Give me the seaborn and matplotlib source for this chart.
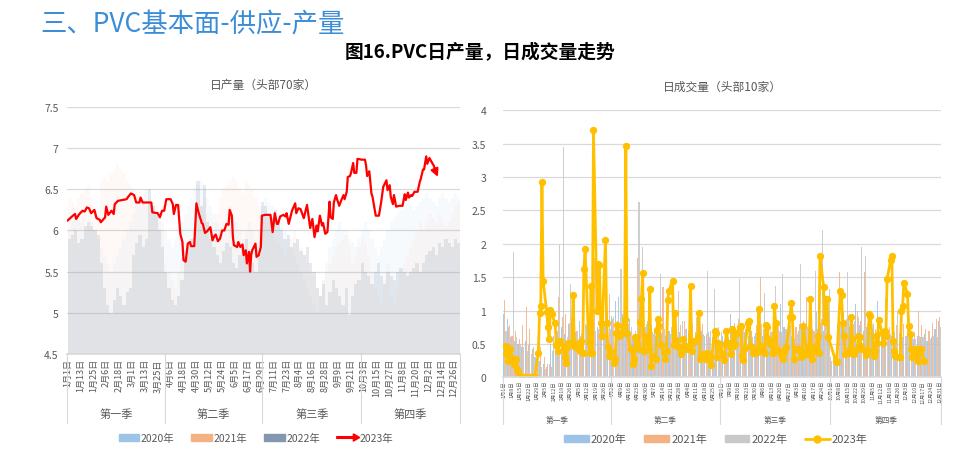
import numpy as np
import pandas as pd
import matplotlib
matplotlib.use("Agg")
import matplotlib.pyplot as plt
import matplotlib.transforms as mtransforms
import seaborn as sns
from matplotlib.patches import Patch, FancyArrow
from matplotlib.lines import Line2D
from matplotlib.legend_handler import HandlerPatch

sns.set_theme(style="white")
plt.rcParams["font.family"] = ["Noto Sans CJK SC", "DejaVu Sans"]
plt.rcParams["axes.unicode_minus"] = False

# ---------------- left: daily output (top 70), 2020-based calendar ----------------
prod_ticks = ["1月1日", "1月13日", "1月25日", "2月6日", "2月18日", "3月1日", "3月13日", "3月25日",
              "4月6日", "4月18日", "4月30日", "5月12日", "5月24日", "6月5日", "6月17日", "6月29日",
              "7月11日", "7月23日", "8月4日", "8月16日", "8月28日", "9月9日", "9月21日",
              "10月3日", "10月15日", "10月27日", "11月8日", "11月20日", "12月2日", "12月14日", "12月26日"]

# background years, one value every 3 days
bg_day = list(range(0, 366, 3))
prod_2020 = [6.0, 6.1, 6.15, 6.2, 6.1, 6.0, 6.05, 6.1, 6.0, 5.9,
             5.8, 5.7, 5.6, 5.5, 5.6, 5.7, 5.8, 5.9, 6.0, 6.1,
             6.2, 6.3, 6.4, 6.45, 6.5, 6.4, 6.35, 6.3, 6.2, 6.1,
             6.0, 5.9, 5.8, 5.9, 6.0, 6.1, 6.2, 6.3, 6.4, 6.5,
             6.55, 6.6, 6.5, 6.4, 6.3, 6.2, 6.1, 6.0, 6.1, 6.2,
             6.3, 6.2, 6.1, 6.0, 5.9, 6.0, 6.1, 6.0, 5.9, 6.0,
             6.3, 6.4, 6.35, 6.3, 6.25, 6.2, 6.1, 6.0, 5.9, 5.8,
             5.7, 5.6, 5.5, 5.4, 5.3, 5.2, 5.1, 5.0, 5.2, 5.4,
             5.6, 5.8, 5.9, 6.0, 6.1, 6.0, 5.95, 5.9, 5.85, 5.8,
             5.9, 6.0, 6.1, 6.0, 5.9, 5.8, 5.7, 5.8, 5.9, 6.0,
             6.1, 6.15, 6.2, 6.25, 6.3, 6.35, 6.3, 6.25, 6.3, 6.35,
             6.4, 6.45, 6.4, 6.35, 6.3, 6.4, 6.45, 6.4, 6.35, 6.4,
             6.45, 6.4]
prod_2021 = [6.4, 6.35, 6.3, 6.4, 6.45, 6.5, 6.55, 6.4, 6.3, 6.2,
             6.6, 6.65, 6.6, 6.7, 6.75, 6.8, 6.75, 6.7, 6.6, 6.55,
             6.5, 6.45, 6.4, 6.35, 6.3, 6.35, 6.3, 6.2, 6.1, 6.0,
             5.6, 5.5, 5.4, 5.3, 5.5, 5.6, 5.7, 5.8, 5.9, 6.0,
             6.1, 6.3, 6.4, 6.2, 6.0, 6.1, 6.2, 6.4, 6.5, 6.55,
             6.6, 6.65, 6.6, 6.5, 6.45, 6.6, 6.55, 6.5, 6.4, 6.3,
             6.2, 6.15, 6.1, 6.0, 5.9, 5.85, 5.8, 5.7, 5.8, 5.9,
             6.0, 5.9, 5.8, 5.7, 5.6, 5.5, 5.45, 5.3, 5.2, 5.4,
             5.5, 5.6, 5.7, 5.8, 5.85, 5.9, 6.0, 5.8, 5.6, 5.7,
             5.8, 5.9, 5.85, 5.7, 5.5, 5.3, 5.2, 5.1, 5.4, 5.6,
             5.2, 5.1, 5.3, 5.5, 5.6, 5.7, 5.8, 5.9, 6.0, 6.1,
             6.0, 6.1, 6.2, 6.15, 6.1, 6.2, 6.1, 6.05, 6.1, 6.2,
             6.3, 6.35]
prod_2022 = [5.9, 5.95, 6.0, 5.85, 5.9, 6.05, 6.1, 6.05, 6.0, 5.95,
             5.6, 5.3, 5.1, 5.0, 5.15, 5.3, 5.2, 5.1, 5.25, 5.3,
             5.7, 5.85, 5.95, 5.8, 5.9, 6.5, 6.3, 6.2, 6.0, 5.8,
             5.5, 5.3, 5.15, 5.1, 5.2, 5.4, 5.6, 5.8, 5.9, 5.85,
             6.6, 6.3, 6.55, 6.1, 5.9, 5.8, 5.7, 5.6, 5.75, 5.85,
             5.8, 5.6, 5.55, 5.7, 5.8, 5.9, 5.75, 5.6, 5.5, 5.7,
             6.35, 6.3, 6.2, 6.15, 6.25, 6.1, 6.0, 5.9, 5.95, 5.8,
             5.85, 5.9, 5.75, 5.7, 5.8, 5.6, 5.5, 5.3, 5.2, 5.35,
             5.1, 5.25, 5.4, 5.3, 5.2, 5.1, 5.3, 4.97, 5.2, 5.35,
             5.4, 5.6, 5.5, 5.45, 5.35, 5.5, 5.6, 5.45, 5.35, 5.5,
             5.45, 5.4, 5.5, 5.55, 5.5, 5.45, 5.5, 5.55, 5.6, 5.5,
             5.6, 5.7, 5.75, 5.8, 5.7, 5.85, 5.8, 5.9, 5.85, 5.8,
             5.9, 5.85]

prod_day = [0, 5, 7, 8, 11, 14, 16, 18, 20, 22, 25, 27, 30, 31, 35, 36, 38, 41, 43, 44,
            47, 51, 55, 56, 59, 62, 64, 67, 68, 70, 75, 78, 79, 84, 86, 88, 90, 92, 96, 98,
            99, 101, 103, 105, 107, 108, 110, 112, 114, 115, 118, 120, 122, 125, 126, 128, 130, 133, 135, 137,
            138, 140, 142, 144, 146, 148, 150, 151, 153, 154, 155, 158, 159, 161, 163, 164, 166, 167, 169, 170,
            171, 172, 175, 176, 178, 180, 181, 184, 187, 189, 191, 193, 195, 196, 198, 201, 203, 204, 206, 209,
            210, 212, 213, 215, 217, 220, 223, 226, 228, 230, 232, 233, 235, 237, 238, 240, 242, 244, 245, 247,
            248, 250, 251, 253, 255, 257, 258, 260, 261, 263, 264, 266, 267, 269, 270, 274, 277, 278, 279, 281,
            283, 284, 286, 287, 290, 292, 294, 297, 298, 300, 301, 303, 304, 306, 309, 312, 314, 315, 317, 318,
            320, 321, 323, 326, 328, 329, 331, 332, 334, 335, 337, 340, 341, 343, 346]
prod_2023 = [6.12, 6.18, 6.20, 6.14, 6.20, 6.24, 6.23, 6.28, 6.27, 6.21, 6.25, 6.15, 6.13, 6.10, 6.16, 6.29, 6.19, 6.24, 6.20, 6.32,
             6.36, 6.37, 6.38, 6.40, 6.45, 6.43, 6.34, 6.34, 6.40, 6.34, 6.34, 6.34, 6.22, 6.21, 6.16, 6.24, 6.24, 6.38, 6.38, 6.32,
             6.20, 6.31, 6.31, 5.96, 5.86, 5.64, 5.62, 5.84, 5.86, 5.81, 5.81, 6.33, 6.22, 6.09, 6.08, 5.97, 5.99, 6.04, 5.88, 5.94,
             5.95, 5.87, 5.90, 6.00, 6.00, 6.08, 6.07, 6.25, 6.18, 5.92, 5.82, 5.80, 5.86, 5.80, 5.83, 5.70, 5.76, 5.60, 5.74, 5.50,
             5.70, 5.76, 5.84, 5.68, 5.70, 5.80, 6.18, 6.19, 6.19, 6.19, 5.98, 6.21, 6.08, 6.08, 6.17, 6.19, 6.17, 6.21, 6.08, 6.24,
             6.27, 6.33, 6.21, 6.27, 6.26, 6.15, 6.31, 6.03, 6.14, 5.92, 6.06, 5.99, 6.18, 6.06, 6.09, 5.96, 5.98, 6.35, 6.16, 6.14,
             6.34, 6.43, 6.38, 6.30, 6.37, 6.43, 6.38, 6.47, 6.65, 6.66, 6.70, 6.82, 6.70, 6.70, 6.87, 6.86, 6.86, 6.79, 6.66, 6.72,
             6.45, 6.41, 6.26, 6.18, 6.18, 6.34, 6.53, 6.61, 6.49, 6.55, 6.41, 6.32, 6.43, 6.29, 6.30, 6.30, 6.44, 6.37, 6.46, 6.40,
             6.43, 6.42, 6.47, 6.47, 6.59, 6.63, 6.74, 6.74, 6.90, 6.81, 6.88, 6.81, 6.79, 6.71, 6.62]

# ---------------- right: daily deals (top 10) ----------------
vol_ticks = ["1月1日", "1月8日", "1月15日", "1月22日", "1月29日", "2月5日", "2月12日", "2月19日", "2月26日",
             "3月5日", "3月12日", "3月19日", "3月26日", "4月2日", "4月9日", "4月16日", "4月23日", "4月30日",
             "5月7日", "5月14日", "5月21日", "5月28日", "6月4日", "6月11日", "6月18日", "6月25日",
             "7月2日", "7月9日", "7月16日", "7月23日", "7月30日", "8月6日", "8月13日", "8月20日", "8月27日",
             "9月3日", "9月10日", "9月17日", "9月24日", "10月1日", "10月8日", "10月15日", "10月22日", "10月29日",
             "11月5日", "11月12日", "11月19日", "11月26日", "12月3日", "12月10日", "12月17日", "12月24日", "12月31日"]

vol_2020 = [0.95, 0.88, 0.6, 0.55, 0.5, 0.45, 0.55, 0.48, 0.42, 0.3,
            0.25, 0.2, 0.15, 0.5, 0.62, 0.7, 0.75, 0.65, 0.8, 0.72,
            0.68, 0.85, 0.9, 0.78, 0.7, 0.82, 0.75, 0.9, 0.85, 1.0,
            0.92, 1.15, 1.2, 0.95, 0.8, 0.88, 0.6, 0.5, 0.55, 0.7,
            0.85, 0.78, 0.72, 0.9, 0.66, 0.62, 0.7, 0.8, 0.75, 0.68,
            0.6, 0.72, 0.65, 0.55, 0.58, 0.7, 0.62, 0.68, 0.6, 0.55,
            0.5, 0.62, 0.7, 0.95, 0.72, 0.6, 0.55, 0.68, 0.62, 0.7,
            0.66, 0.58, 0.62, 0.72, 0.6, 0.55, 0.7, 1.1, 0.75, 0.68,
            0.62, 0.58, 0.7, 0.75, 0.8, 0.78, 0.72, 0.98, 0.82, 0.7,
            0.62, 0.3, 0.25, 0.8, 0.95, 0.85, 0.9, 0.82, 1.1, 0.78,
            0.7, 0.75, 0.68, 0.8, 1.14, 0.72, 0.65, 0.7, 0.62, 0.58,
            0.66, 0.6, 0.62, 0.55, 0.58, 0.62, 0.6, 0.65, 0.55, 0.6,
            0.72, 0.85]
vol_2021 = [1.16, 0.75, 0.62, 0.7, 0.58, 0.78, 1.05, 0.72, 0.45, 0.4,
            0.45, 0.3, 0.2, 0.15, 0.85, 1.2, 0.9, 0.95, 0.82, 0.75,
            0.7, 0.62, 0.78, 0.7, 0.65, 1.78, 0.72, 0.68, 0.95, 1.25,
            0.88, 0.78, 0.72, 0.85, 0.7, 0.65, 0.6, 1.78, 0.8, 0.75,
            0.7, 0.68, 0.62, 0.75, 1.35, 0.7, 0.65, 0.72, 0.6, 0.78,
            0.85, 0.7, 0.62, 0.68, 0.75, 0.8, 0.65, 0.6, 0.55, 0.62,
            0.45, 0.5, 0.68, 0.75, 0.82, 0.88, 0.7, 0.72, 0.65, 0.6,
            0.78, 1.5, 0.72, 0.65, 0.7, 0.8, 0.75, 0.68, 0.72, 0.62,
            0.7, 0.75, 0.8, 0.85, 1.2, 0.75, 0.7, 0.72, 0.88, 0.9,
            0.82, 0.25, 0.2, 1.58, 0.95, 0.88, 0.75, 0.8, 1.0, 0.85,
            1.58, 0.8, 0.75, 0.72, 0.82, 0.7, 1.18, 0.75, 0.82, 0.78,
            0.72, 0.8, 0.75, 0.7, 0.68, 1.0, 0.78, 0.72, 0.7, 0.82,
            0.88, 0.9]
vol_2022 = [0.7, 0.78, 1.88, 0.6, 0.5, 0.45, 0.4, 0.35, 0.3, 0.25,
            0.15, 0.12, 0.2, 0.4, 0.55, 1.98, 3.45, 0.6, 1.4, 0.75,
            0.7, 0.65, 0.8, 0.75, 0.9, 0.7, 0.85, 0.95, 0.8, 0.72,
            0.9, 0.85, 1.62, 0.9, 0.8, 0.75, 0.7, 2.62, 1.95, 0.8,
            0.7, 0.65, 0.85, 1.55, 0.72, 0.6, 0.75, 0.7, 1.3, 0.85,
            0.72, 0.68, 0.8, 0.9, 0.75, 0.65, 1.6, 0.7, 1.32, 0.75,
            0.68, 0.72, 0.6, 0.65, 0.7, 1.47, 0.72, 0.68, 0.75, 0.62,
            0.7, 0.8, 1.27, 0.75, 0.68, 1.37, 0.7, 1.55, 0.72, 0.78,
            0.7, 0.65, 1.7, 0.72, 0.75, 0.8, 1.6, 0.95, 2.2, 0.9,
            1.32, 0.3, 0.2, 0.85, 1.0, 1.58, 0.8, 0.85, 0.9, 1.95,
            1.82, 0.75, 0.7, 0.68, 0.65, 0.72, 0.7, 0.65, 0.68, 1.0,
            0.7, 0.62, 0.6, 0.65, 0.58, 0.62, 0.6, 0.55, 0.58, 0.62,
            0.6, 0.75]

# 2023 trading days
vol_2023 = [0.47, 0.35, 0.45, 0.25, 0.42, 0.28, 0.20, 0.27, 0.12, 0.08,
            0.00, 0.00, 0.00, 0.00, 0.00, 0.00, 0.00, 0.00, 0.00, 0.00,
            0.37, 0.96, 1.07, 2.93, 1.44, 0.98, 0.75, 0.58, 1.01, 0.95,
            0.81, 0.48, 0.40, 0.52, 0.55, 0.45, 0.30, 0.22, 0.46, 0.52,
            0.50, 1.23, 0.52, 0.45, 0.47, 0.40, 0.55, 0.37, 1.62, 1.92,
            0.53, 0.37, 1.37, 0.37, 3.70, 1.00, 1.70, 1.68, 0.82, 0.62,
            2.05, 0.82, 0.45, 0.32, 0.40, 0.22, 0.27, 0.67, 0.78, 0.62,
            0.67, 0.77, 0.87, 3.47, 0.67, 0.42, 0.42, 0.20, 0.27, 0.60,
            0.42, 0.83, 1.17, 1.57, 0.40, 0.62, 0.42, 1.32, 0.17, 0.32,
            0.27, 0.71, 0.87, 0.77, 0.48, 0.38, 0.27, 0.40, 1.16, 1.30,
            1.45, 0.48, 0.97, 0.56, 0.47, 0.35, 0.43, 0.58, 0.47, 0.42,
            0.47, 1.37, 0.40, 0.52, 0.55, 0.60, 0.97, 0.27, 0.33, 0.35,
            0.27, 0.37, 0.32, 0.31, 0.18, 0.70, 0.67, 0.31, 0.52, 0.42,
            0.35, 0.26, 0.50, 0.70, 0.52, 0.35, 0.72, 0.47, 0.50, 0.65,
            0.76, 0.77, 0.33, 0.26, 0.42, 0.82, 0.85, 0.47, 0.45, 0.37,
            0.37, 0.40, 1.03, 0.40, 0.47, 0.37, 0.78, 0.75, 0.57, 0.50,
            0.37, 1.07, 0.82, 0.42, 0.40, 0.32, 0.27, 0.37, 0.42, 0.45,
            0.90, 1.12, 0.90, 0.27, 0.42, 0.42, 0.40, 0.31, 0.40, 0.77,
            0.35, 0.42, 0.45, 1.18, 0.28, 0.40, 0.47, 0.62, 0.36, 1.82,
            1.36, 0.83, 1.17, 1.18, 0.60, 0.25, 0.23, 1.30, 1.23, 0.81,
            0.62, 0.35, 0.37, 0.42, 0.91, 0.58, 0.35, 0.43, 0.62, 0.60,
            0.47, 0.42, 0.33, 0.37, 0.41, 0.95, 0.92, 0.32, 0.40, 0.62,
            0.52, 0.86, 0.67, 0.52, 0.70, 0.62, 1.47, 1.76, 1.82, 0.55,
            0.40, 0.32, 0.30, 0.30, 1.00, 1.07, 1.42, 1.25, 0.77, 0.65,
            0.42, 0.31, 0.42, 0.35, 0.25, 0.42, 0.42, 0.25]
vol_dates = pd.bdate_range("2023-01-02", periods=len(vol_2023), freq="C",
                           holidays=["2023-10-02", "2023-10-03", "2023-10-04"])
vol_day = np.array(vol_dates.dayofyear - 1)

quarters = ["第一季", "第二季", "第三季", "第四季"]

C20, C21 = "#9DC3E6", "#F4B183"
C22_L, C22_R = "#8497B0", "#C9C9C9"
GOLD = "#FFC000"
GRID = "#D9D9D9"
TXT = "#595959"


def quarter_axis(ax, bounds, depth, label_y, fs):
    trans = mtransforms.blended_transform_factory(ax.transData, ax.transAxes)
    for b in bounds:
        ax.plot([b, b], [0, depth], transform=trans, color=GRID, lw=0.8, clip_on=False)
    for a, b, name in zip(bounds[:-1], bounds[1:], quarters):
        ax.text((a + b) / 2, label_y, name, transform=trans, ha="center", va="center",
                fontsize=fs, color=TXT)


def style_axis(ax):
    ax.grid(axis="y", color=GRID, lw=0.9)
    ax.set_axisbelow(True)
    for s in ["top", "right", "left"]:
        ax.spines[s].set_visible(False)
    ax.spines["bottom"].set_color(GRID)
    ax.tick_params(axis="both", length=0, colors=TXT)
    ax.yaxis.set_major_formatter(plt.FuncFormatter(lambda v, p: f"{v:g}"))
    ax.set_xlabel("")
    ax.set_ylabel("")


fig = plt.figure(figsize=(9.61, 4.56), dpi=100)
fig.text(0.042, 0.945, "三、PVC基本面-供应-产量", fontsize=19, color="#3C8DD8", va="center")
fig.text(0.499, 0.886, "图16.PVC日产量，日成交量走势", fontsize=13.5, fontweight="bold",
         ha="center", va="center", color="black")

# ---------- left panel ----------
ax1 = fig.add_axes([0.0697, 0.2215, 0.409, 0.5417])
ax1.bar(bg_day, prod_2022, width=3, color=C22_L, alpha=0.2, linewidth=0, align="edge")
ax1.bar(bg_day, prod_2020, width=3, color=C20, alpha=0.08, linewidth=0, align="edge")
ax1.bar(bg_day, prod_2021, width=3, color=C21, alpha=0.07, linewidth=0, align="edge")
sns.lineplot(x=prod_day[:-1], y=prod_2023[:-1], color="red", lw=1.6, ax=ax1,
             sort=False, estimator=None)
ax1.annotate("", xy=(prod_day[-1], prod_2023[-1]), xytext=(prod_day[-2] - 1, prod_2023[-2] + 0.03),
             arrowprops=dict(arrowstyle="-|>", color="red", lw=1.6, mutation_scale=11))
ax1.set_xlim(-0.5, 365.5)
ax1.set_ylim(4.5, 7.5)
ax1.set_yticks(np.arange(4.5, 7.51, 0.5))
ax1.set_xticks(range(0, 366, 12))
ax1.set_xticklabels(prod_ticks, rotation=90, fontsize=6.5)
style_axis(ax1)
ax1.tick_params(axis="y", labelsize=7.5, pad=6)
ax1.tick_params(axis="x", pad=3)
ax1.set_title("日产量（头部70家）", fontsize=8.5, color=TXT, pad=14)
quarter_axis(ax1, [-0.5, 90.5, 181.5, 273.5, 365.5], -0.28, -0.243, 8)

arrow_handle = Patch(color="red")


def make_arrow(legend, orig_handle, xdescent, ydescent, width, height, fontsize):
    return FancyArrow(-xdescent, height / 2 - ydescent, width * 1.1, 0, width=1.2,
                      head_width=height * 1.1, head_length=width * 0.3,
                      length_includes_head=True, color="red")


h1 = [Patch(color=C20), Patch(color=C21), Patch(color=C22_L), arrow_handle]
fig.legend(h1, ["2020年", "2021年", "2022年", "2023年"], loc="center",
           bbox_to_anchor=(0.266, 0.037), ncol=4, frameon=False, fontsize=7.5,
           handlelength=2.0, handleheight=0.6, handletextpad=0.15, columnspacing=1.6,
           labelcolor=TXT, handler_map={arrow_handle: HandlerPatch(patch_func=make_arrow)})

# ---------- right panel ----------
ax2 = fig.add_axes([0.5234, 0.1704, 0.4558, 0.5855])
bg = np.array(bg_day)
ax2.bar(bg, vol_2020, width=0.9, color=C20, alpha=0.85, linewidth=0)
ax2.bar(bg + 1, vol_2021, width=0.9, color=C21, alpha=0.85, linewidth=0)
ax2.bar(bg + 2, vol_2022, width=0.9, color=C22_R, alpha=0.9, linewidth=0)
sns.lineplot(x=vol_day, y=vol_2023, color=GOLD, lw=2, marker="o", markersize=4.5,
             markeredgecolor=GOLD, ax=ax2, sort=False, estimator=None)
ax2.set_xlim(-0.5, 365)
ax2.set_ylim(0, 4)
ax2.set_yticks(np.arange(0, 4.01, 0.5))
ax2.set_xticks(range(0, 365, 7))
ax2.set_xticklabels(vol_ticks, rotation=90, fontsize=3.8)
style_axis(ax2)
ax2.tick_params(axis="y", labelsize=7.5, pad=12)
ax2.tick_params(axis="x", pad=2)
ax2.set_title("日成交量（头部10家）", fontsize=8.5, color=TXT, pad=15)
quarter_axis(ax2, [-0.5, 89.5, 180.5, 272.5, 365], -0.176, -0.16, 5.5)

h2 = [Patch(color=C20), Patch(color=C21), Patch(color=C22_R),
      Line2D([0], [0], color=GOLD, lw=2, marker="o", markersize=5)]
fig.legend(h2, ["2020年", "2021年", "2022年", "2023年"], loc="center",
           bbox_to_anchor=(0.745, 0.035), ncol=4, frameon=False, fontsize=8,
           handlelength=2.2, handleheight=0.6, handletextpad=0.2, columnspacing=1.6,
           labelcolor=TXT)

fig.savefig("out.png", dpi=100)
